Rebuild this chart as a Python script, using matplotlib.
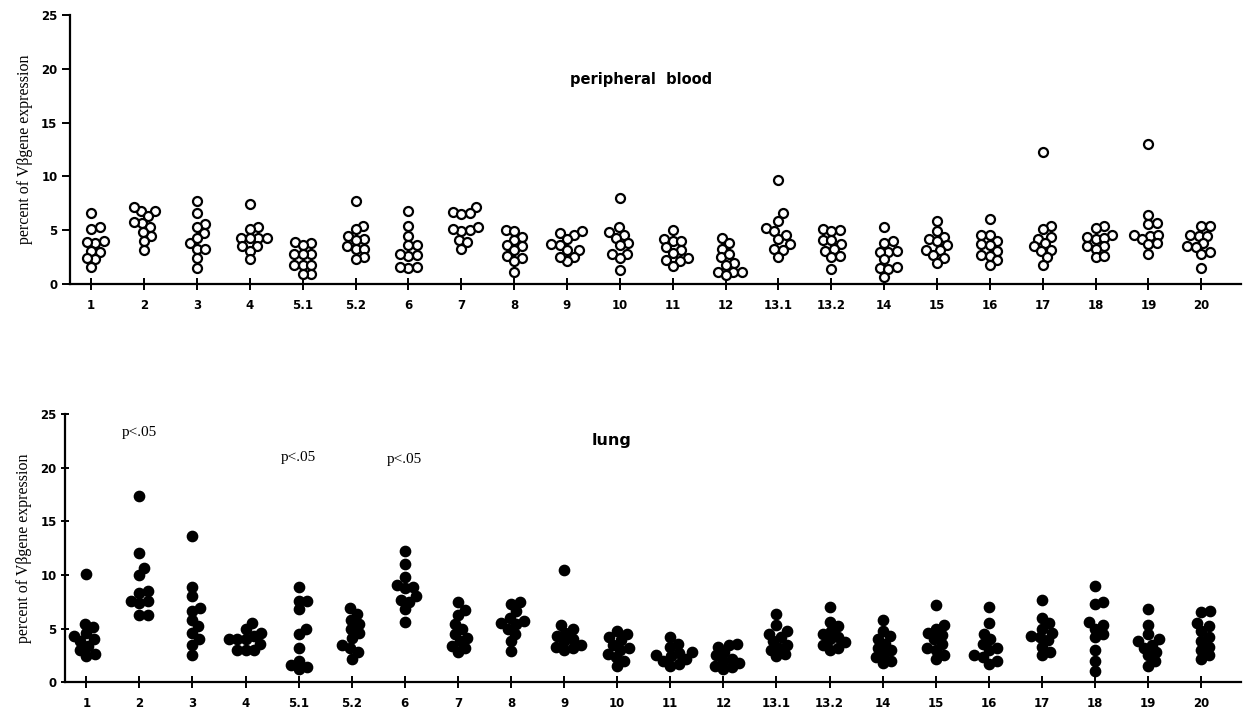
import numpy as np
import matplotlib.pyplot as plt

# V-beta families on the x axis
families = ['1', '2', '3', '4', '5.1', '5.2', '6', '7', '8', '9', '10',
            '11', '12', '13.1', '13.2', '14', '15', '16', '17', '18', '19', '20']

# percent of V-beta gene expression, peripheral blood (open circles)
blood = [
    [6.6, 5.3, 5.1, 3.8, 4.0, 3.9, 3.0, 3.1, 2.3, 2.4, 1.6],
    [6.8, 7.2, 6.8, 6.3, 5.7, 5.3, 5.8, 4.5, 4.8, 4.0, 3.2],
    [7.7, 6.6, 5.6, 5.3, 4.7, 3.8, 4.3, 3.3, 3.3, 2.4, 1.5],
    [7.4, 5.3, 5.1, 4.3, 4.3, 4.3, 4.3, 3.5, 3.5, 3.1, 2.3],
    [3.8, 3.9, 3.6, 2.8, 2.8, 2.8, 1.8, 1.8, 1.8, 0.9, 0.9],
    [7.7, 5.4, 5.1, 4.5, 4.2, 4.1, 3.5, 3.3, 3.3, 2.5, 2.3],
    [6.8, 5.4, 4.5, 3.6, 3.6, 2.6, 2.8, 2.7, 1.5, 1.6, 1.6],
    [7.2, 6.7, 6.5, 6.6, 5.0, 4.9, 5.1, 5.3, 4.1, 3.9, 3.3],
    [5.0, 4.9, 4.4, 4.1, 3.5, 3.6, 3.2, 2.4, 2.6, 2.1, 1.1],
    [4.6, 4.7, 4.9, 4.2, 3.6, 3.7, 3.2, 3.2, 2.5, 2.1, 2.5],
    [8.0, 5.3, 4.8, 4.6, 4.3, 3.8, 3.6, 2.8, 2.8, 2.4, 1.3],
    [5.0, 4.2, 4.0, 4.0, 3.2, 3.4, 2.9, 2.2, 2.4, 2.1, 1.7],
    [4.3, 3.8, 3.3, 2.5, 2.8, 2.0, 1.8, 1.1, 1.1, 0.8, 1.1],
    [9.7, 6.6, 5.9, 5.2, 4.9, 4.6, 4.2, 3.7, 3.3, 3.2, 2.5],
    [5.1, 5.0, 4.9, 4.1, 4.1, 3.7, 3.1, 3.3, 2.5, 2.6, 1.4],
    [5.3, 3.8, 4.0, 3.0, 3.1, 3.0, 2.3, 1.5, 1.4, 1.6, 0.7],
    [5.9, 4.9, 4.4, 4.2, 4.0, 3.6, 3.2, 3.2, 2.7, 2.4, 2.0],
    [6.0, 4.6, 4.6, 4.0, 3.6, 3.7, 3.1, 2.7, 2.6, 2.2, 1.8],
    [12.3, 5.4, 5.1, 4.4, 4.2, 3.8, 3.5, 3.2, 3.1, 2.5, 1.8],
    [5.4, 5.2, 4.6, 4.4, 4.2, 4.3, 3.5, 3.3, 3.5, 2.5, 2.6],
    [13.0, 6.4, 5.6, 5.7, 4.6, 4.5, 4.6, 4.2, 3.8, 3.7, 2.8],
    [5.4, 5.4, 4.5, 4.5, 4.6, 3.8, 3.4, 3.5, 2.8, 3.0, 1.5],
]

# percent of V-beta gene expression, lung (filled circles)
lung = [
    [10.1, 5.4, 5.1, 4.6, 4.3, 4.0, 3.8, 3.4, 3.0, 2.6, 2.4],
    [17.4, 12.1, 10.7, 10.0, 8.5, 8.3, 7.6, 7.6, 7.4, 6.3, 6.3],
    [13.6, 8.9, 8.0, 6.9, 6.6, 5.8, 5.2, 4.6, 4.0, 3.5, 2.5],
    [5.5, 5.0, 4.6, 4.3, 4.0, 4.0, 4.0, 3.6, 3.0, 3.0, 3.0],
    [8.9, 7.6, 7.6, 6.8, 5.0, 4.5, 3.2, 2.0, 1.6, 1.4, 1.2],
    [6.9, 6.4, 5.8, 5.4, 5.0, 4.6, 4.1, 3.5, 3.2, 2.8, 2.2],
    [12.2, 11.0, 9.8, 9.1, 8.9, 8.8, 8.0, 7.7, 7.5, 6.8, 5.6],
    [7.5, 6.7, 6.3, 5.4, 5.0, 4.5, 4.1, 3.8, 3.4, 3.2, 2.8],
    [7.5, 7.3, 6.6, 6.0, 5.7, 5.5, 5.4, 5.0, 4.5, 3.8, 2.9],
    [10.5, 5.3, 5.0, 4.6, 4.3, 4.0, 3.8, 3.5, 3.3, 3.2, 3.0],
    [4.8, 4.5, 4.2, 3.9, 3.5, 3.2, 3.0, 2.6, 2.3, 2.0, 1.5],
    [4.2, 3.6, 3.3, 2.8, 2.7, 2.5, 2.4, 2.2, 2.0, 1.7, 1.5],
    [3.6, 3.5, 3.3, 2.8, 2.5, 2.2, 2.0, 1.8, 1.5, 1.4, 1.2],
    [6.4, 5.3, 4.8, 4.5, 4.2, 3.8, 3.5, 3.2, 3.0, 2.6, 2.4],
    [7.0, 5.6, 5.2, 4.8, 4.5, 4.2, 4.0, 3.7, 3.5, 3.2, 3.0],
    [5.8, 4.8, 4.3, 4.0, 3.6, 3.2, 3.0, 2.6, 2.3, 2.0, 1.8],
    [7.2, 5.3, 5.0, 4.6, 4.4, 4.0, 3.6, 3.2, 3.0, 2.5, 2.2],
    [7.0, 5.5, 4.5, 4.0, 3.6, 3.2, 3.0, 2.5, 2.3, 2.0, 1.7],
    [7.7, 6.0, 5.5, 5.0, 4.6, 4.3, 4.2, 3.9, 3.3, 2.8, 2.5],
    [9.0, 7.5, 7.3, 5.6, 5.3, 5.0, 4.5, 4.2, 3.0, 2.0, 1.0],
    [6.8, 5.3, 4.5, 4.0, 3.8, 3.5, 3.2, 2.8, 2.5, 2.0, 1.5],
    [6.6, 6.5, 5.5, 5.2, 4.8, 4.2, 3.8, 3.3, 3.0, 2.5, 2.2],
]

# significance notes on the lung panel
sig_families = ['2', '5.1', '6']
sig_heights = [23.3, 21.0, 20.8]


def swarm(vals, wx=0.16, wy=0.78):
    # simple beeswarm: push each point sideways until it doesn't overlap
    order = np.argsort(vals)
    xs = np.zeros(len(vals))
    placed = []
    steps = np.arange(0, 0.6, 0.01)
    cands = [0.0] + [s * sgn for s in steps[1:] for sgn in (1, -1)]
    for i in order:
        y = vals[i]
        for c in cands:
            ok = True
            for (px, py) in placed:
                if ((c - px) / wx) ** 2 + ((y - py) / wy) ** 2 < 1.0:
                    ok = False
                    break
            if ok:
                xs[i] = c
                placed.append((c, y))
                break
    return xs


def style_axes(ax, ydir):
    for s in ['top', 'right']:
        ax.spines[s].set_visible(False)
    ax.spines['left'].set_linewidth(1.6)
    ax.spines['bottom'].set_linewidth(1.6)
    ax.set_xlim(-0.4, 21.75)
    ax.set_ylim(0, 25)
    ax.set_yticks([0, 5, 10, 15, 20, 25])
    ax.set_xticks(np.arange(len(families)))
    ax.set_xticklabels(families)
    ax.tick_params(axis='x', direction='inout', length=9, width=1.4, pad=6)
    ax.tick_params(axis='y', direction=ydir, length=6, width=1.4, pad=3)
    for lab in ax.get_xticklabels() + ax.get_yticklabels():
        lab.set_fontweight('bold')
        lab.set_fontsize(8.5)
        lab.set_family('DejaVu Sans')
    ax.set_ylabel('percent of V\u03b2gene expression', family='Liberation Serif',
                  fontsize=11.5, labelpad=6)


fig = plt.figure(figsize=(12.51, 7.12), dpi=100)
ax1 = fig.add_axes([0.056, 0.601, 0.936, 0.378])
ax2 = fig.add_axes([0.052, 0.042, 0.940, 0.376])

for i, vals in enumerate(blood):
    v = np.array(vals)
    ax1.scatter(i + swarm(v), v, s=42, facecolors='white', edgecolors='black',
                linewidths=1.6, zorder=3, clip_on=False)

for i, vals in enumerate(lung):
    v = np.array(vals)
    ax2.scatter(i + swarm(v), v, s=55, color='black', zorder=3, clip_on=False)

style_axes(ax1, 'out')
style_axes(ax2, 'inout')

ax1.text(10.4, 19.0, 'peripheral  blood', ha='center', va='center',
         fontweight='bold', fontsize=10.5)
ax2.text(9.9, 22.6, 'lung', ha='center', va='center', fontweight='bold', fontsize=11.5)

for fam, h in zip(sig_families, sig_heights):
    ax2.text(families.index(fam), h, 'p<.05', ha='center', va='center',
             family='Liberation Serif', fontsize=11)

fig.savefig('out.png', dpi=100)
